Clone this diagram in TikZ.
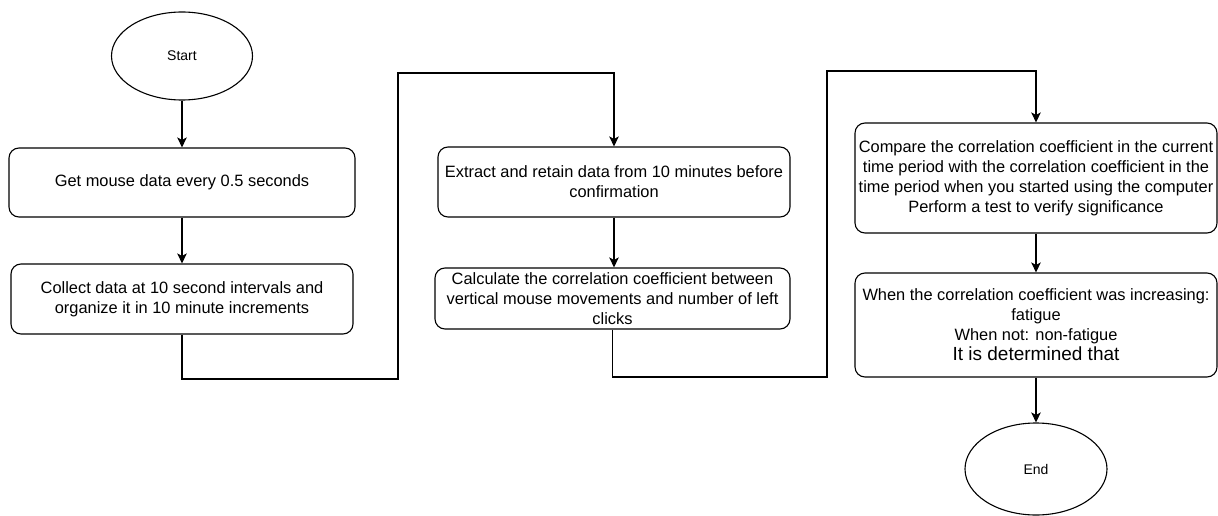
\documentclass[tikz,border=0pt]{standalone}
\usepackage{fontspec}
\setmainfont{Liberation Sans}
\usetikzlibrary{arrows.meta,shapes.geometric}
\begin{document}
\begin{tikzpicture}[x=1pt,y=-1pt,
  line width=1.1pt,
  arr/.style={-{Stealth[length=10pt,width=9.5pt,inset=2.5pt]}},
  procbox/.style={draw,rounded corners=10pt,align=center,inner sep=0pt,
    font=\fontsize{16.4}{20}\selectfont},
  term/.style={draw,ellipse,inner sep=0pt,font=\fontsize{14}{16}\selectfont}]
\useasboundingbox (0,0) rectangle (1218,516);
\node[term,minimum width=141pt,minimum height=88pt] (start) at (182,56) {Start};
\node[procbox,minimum width=346pt,minimum height=69pt] (b1) at (182,182.5) {Get mouse data every 0.5 seconds};
\node[procbox,minimum width=342pt,minimum height=70pt] (b2) at (182,299) {Collect data at 10 second intervals and\\organize it in 10 minute increments};
\node[procbox,minimum width=352pt,minimum height=70pt] (b3) at (614,182) {Extract and retain data from 10 minutes before\\confirmation};
\node[procbox,minimum width=355pt,minimum height=61pt] (b4) at (612.5,298.5) {Calculate the correlation coefficient between\\vertical mouse movements and number of left\\clicks};
\node[procbox,minimum width=362pt,minimum height=110pt] (b5) at (1036,178) {Compare the correlation coefficient in the current\\time period with the correlation coefficient in the\\time period when you started using the computer\\Perform a test to verify significance};
\node[procbox,minimum width=362pt,minimum height=104pt] (b6) at (1036,325) {When the correlation coefficient was increasing:\\fatigue\\When not: non-fatigue\\{\fontsize{19}{21}\selectfont It is determined that}};
\node[term,minimum width=142pt,minimum height=92pt] (end) at (1036,469) {End};
\coordinate (c1) at (398,379);
\coordinate (c2) at (398,73);
\coordinate (c3) at (827,377);
\coordinate (c4) at (827,71);
\draw[arr] (start) -- (b1);
\draw[arr] (b1) -- (b2);
\draw[arr] (b2.south) |- (c1) -- (c2) -| (b3.north);
\draw[arr] (b3.south) -- (b3.south |- b4.north);
\draw[arr] (b4.south) |- (c3) -- (c4) -| (b5.north);
\draw[arr] (b5) -- (b6);
\draw[arr] (b6) -- (end);
\end{tikzpicture}
\end{document}
